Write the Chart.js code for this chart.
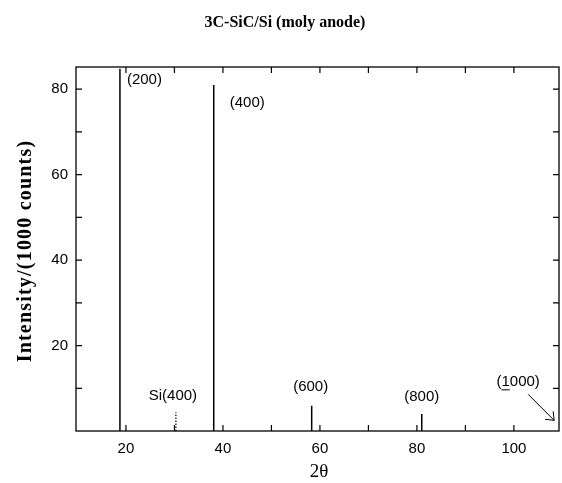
<!DOCTYPE html>
<html>
<head>
<meta charset="utf-8">
<script src="https://cdn.jsdelivr.net/npm/chart.js@4.4.1/dist/chart.umd.min.js"></script>
<style>
  html, body { margin: 0; padding: 0; background: #fff; }
  #wrap { width: 562px; height: 483px; }
</style>
</head>
<body>
<div id="wrap"><canvas id="xrdChart" width="562" height="483"></canvas></div>
<script>
// peaks
const peakLabels = ['(200)', '(400)', '(600)', '(800)'];
const peakPos = [18.76, 38.1, 58.3, 81.0];
const peakHeight = [84.8, 81.0, 5.9, 4.0];

const siLabel = 'Si(400)';
const siPos = [30.3];
const siHeight = [4.4];

// (1000) is off the scale, marked with an arrow
const arrowLabel = '(1000)';
const arrowTip = [108.3, 2.5];

const xTicks = [20, 40, 60, 80, 100];
const yTicks = [20, 40, 60, 80];

// vertical sticks: (pos,0)-(pos,h) separated by gaps
function sticks(pos, h) {
    const pts = [];
    pos.forEach((p, i) => {
        pts.push({ x: p, y: 0 });
        pts.push({ x: p, y: h[i] });
        pts.push({ x: p, y: null });
    });
    return pts;
}

const frame = {
    id: 'frame',
    afterDraw(chart) {
        const ctx = chart.ctx;
        const a = chart.chartArea;
        const xs = chart.scales.x, ys = chart.scales.y;
        ctx.save();
        ctx.strokeStyle = '#000';
        ctx.lineWidth = 1.3;
        ctx.strokeRect(a.left, a.top, a.right - a.left, a.bottom - a.top);

        // inward ticks every 10 on all four sides
        ctx.lineWidth = 1.2;
        ctx.beginPath();
        for (let v = 20; v <= 100; v += 10) {
            const px = xs.getPixelForValue(v);
            ctx.moveTo(px, a.bottom); ctx.lineTo(px, a.bottom - 6);
            ctx.moveTo(px, a.top); ctx.lineTo(px, a.top + 6);
        }
        for (let v = 10; v <= 80; v += 10) {
            const py = ys.getPixelForValue(v);
            ctx.moveTo(a.left, py); ctx.lineTo(a.left + 6, py);
            ctx.moveTo(a.right, py); ctx.lineTo(a.right - 6, py);
        }
        ctx.stroke();

        // peak labels
        ctx.fillStyle = '#000';
        ctx.font = '15px "Liberation Sans", Arial, sans-serif';
        ctx.textBaseline = 'middle';
        ctx.textAlign = 'left';
        const off = [[7, 11], [16, 18]];
        peakLabels.forEach((t, i) => {
            const px = xs.getPixelForValue(peakPos[i]);
            const py = ys.getPixelForValue(peakHeight[i]);
            if (i < 2) {
                ctx.fillText(t, px + off[i][0], py + off[i][1]);
            } else {
                ctx.textAlign = 'center';
                ctx.fillText(t, px - 1 + (i - 2) * 1, py - 19 + (i - 2) * 2);
                ctx.textAlign = 'left';
            }
        });
        ctx.textAlign = 'center';
        const sx = xs.getPixelForValue(siPos[0]);
        const sy = ys.getPixelForValue(siHeight[0]);
        ctx.fillText(siLabel, sx - 3, sy - 16);

        // (1000) with underlined 1, and arrow
        const tx = xs.getPixelForValue(arrowTip[0]);
        const ty = ys.getPixelForValue(arrowTip[1]);
        const lx = tx - 36, ly = ty - 38;
        ctx.fillText(arrowLabel, lx, ly);
        const w = ctx.measureText(arrowLabel).width;
        const wp = ctx.measureText('(').width;
        const w1 = ctx.measureText('1').width;
        ctx.lineWidth = 1;
        ctx.beginPath();
        ctx.moveTo(lx - w / 2 + wp, ly + 7.5);
        ctx.lineTo(lx - w / 2 + wp + w1, ly + 7.5);
        ctx.moveTo(tx - 26, ty - 26);
        ctx.lineTo(tx, ty);
        ctx.moveTo(tx, ty); ctx.lineTo(tx - 9, ty - 1);
        ctx.moveTo(tx, ty); ctx.lineTo(tx - 1, ty - 9);
        ctx.stroke();

        // titles
        ctx.textBaseline = 'alphabetic';
        ctx.font = 'bold 16px "Liberation Serif", "Times New Roman", serif';
        ctx.fillText('3C-SiC/Si (moly anode)', 285, 27);
        ctx.font = '19px "Liberation Serif", "Times New Roman", serif';
        ctx.fillText('2\u03B8', 319, 477);
        ctx.save();
        ctx.translate(31, 251);
        ctx.rotate(-Math.PI / 2);
        ctx.font = 'bold 20px "Liberation Serif", "Times New Roman", serif';
        ctx.letterSpacing = '1.2px';
        ctx.fillText('Intensity/(1000 counts)', 0, 0);
        ctx.restore();
        ctx.restore();
    }
};

new Chart(document.getElementById('xrdChart'), {
    type: 'line',
    data: {
        datasets: [{
            data: sticks(peakPos, peakHeight),
            borderColor: '#000',
            borderWidth: 1.5,
            pointRadius: 0,
            spanGaps: false
        }, {
            data: sticks(siPos, siHeight),
            borderColor: '#000',
            borderWidth: 1.2,
            borderDash: [1.5, 1.5],
            pointRadius: 0,
            spanGaps: false
        }]
    },
    options: {
        responsive: false,
        animation: false,
        layout: { padding: { top: 67, right: 3, left: 0, bottom: 0 } },
        plugins: { legend: { display: false }, title: { display: false }, tooltip: { enabled: false } },
        scales: {
            x: {
                type: 'linear',
                min: 9.7,
                max: 109.3,
                afterFit: s => { s.height = 52; },
                afterBuildTicks: s => { s.ticks = xTicks.map(v => ({ value: v })); },
                grid: { display: false, drawTicks: false },
                border: { display: false },
                ticks: {
                    padding: 9,
                    color: '#000',
                    font: { family: '"Liberation Sans", Arial, sans-serif', size: 15 },
                    maxRotation: 0
                }
            },
            y: {
                type: 'linear',
                min: 0,
                max: 85.2,
                afterFit: s => { s.width = 76; },
                afterBuildTicks: s => { s.ticks = yTicks.map(v => ({ value: v })); },
                grid: { display: false, drawTicks: false },
                border: { display: false },
                ticks: {
                    padding: 8,
                    color: '#000',
                    font: { family: '"Liberation Sans", Arial, sans-serif', size: 15 }
                }
            }
        }
    },
    plugins: [frame]
});
</script>
</body>
</html>
